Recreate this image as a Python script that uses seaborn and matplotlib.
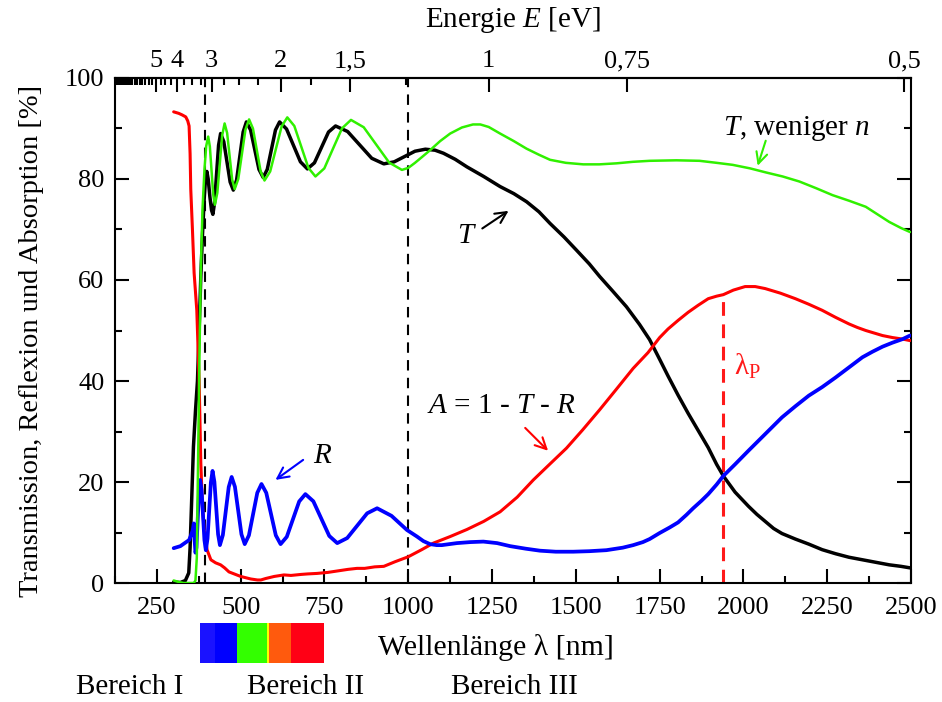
import numpy as np
import pandas as pd
import matplotlib
matplotlib.use("Agg")
import matplotlib.pyplot as plt
from matplotlib.patches import Rectangle
from matplotlib.ticker import FixedLocator, MultipleLocator
import matplotlib.transforms as mtransforms
import seaborn as sns

# ---------------- data (wavelength in nm, values in %) ----------------
# transmission T
lam_T = [300, 320, 335, 345, 349, 354, 359, 365, 371, 376, 381, 386, 391, 395, 399,
         403, 408, 413, 417, 422, 428, 434, 440, 449.5, 459, 468.5, 478, 487.75, 497.5,
         507.25, 517, 529.5, 542, 554.5, 567, 579.25, 591.5, 603.75, 616, 636.75, 657.5,
         678.25, 699, 720, 741, 762, 783, 819, 855, 891, 927, 958, 989, 1020, 1051,
         1080, 1105, 1140, 1175, 1225, 1274, 1315, 1353, 1390, 1423, 1465, 1502, 1540,
         1571, 1610, 1651, 1690, 1720, 1750, 1775, 1805, 1835, 1865, 1895, 1920, 1940,
         1975, 2015, 2040, 2065, 2090, 2115, 2155, 2195, 2235, 2275, 2315, 2355, 2395,
         2435, 2470, 2497]
val_T = [0.2, 0.1, 0.5, 2, 7, 17, 27, 34, 40, 50, 60.7, 69, 76, 80, 81.5,
         80, 76.5, 73.8, 73, 75.3, 81, 86.7, 89, 87.4, 83.4, 79.4, 77.8, 79.8, 84.55,
         89.3, 91.3, 89.7, 85.8, 81.9, 80.3, 81.9, 85.8, 89.7, 91.3, 89.9, 86.65,
         83.4, 82, 83.2, 86.25, 89.3, 90.5, 89.4, 86.75, 84.1, 83, 83.4, 84.45, 85.5, 85.9,
         85.7, 85.1, 83.9, 82.4, 80.5, 78.5, 77.1, 75.5, 73.5, 71.2, 68.5, 65.9, 63.2,
         60.7, 57.8, 54.7, 51.2, 48.2, 44.3, 41, 37.2, 33.6, 30.2, 26.8, 23.5, 21.2,
         18, 15.2, 13.6, 12.2, 10.8, 9.8, 8.7, 7.7, 6.6, 5.8, 5.1, 4.6, 4.1,
         3.6, 3.3, 3.0]

# transmission of the sample with lower carrier density
lam_Tn = [300, 315, 330, 360, 365, 369, 373, 377, 381, 386, 392, 397, 403, 408, 413,
          418, 423, 430.25, 437.5, 444.75, 452, 459.5, 467, 474.5, 482, 492.75, 503.5,
          514.25, 525, 536.5, 548, 559.5, 571, 588, 605, 622, 639, 660, 681, 702, 723,
          749.5, 776, 802.5, 829, 867, 905, 943, 981, 1000, 1020, 1040, 1065, 1095, 1125,
          1160, 1193, 1215, 1240, 1274, 1315, 1353, 1390, 1423, 1470, 1522, 1570, 1621,
          1670, 1720, 1800, 1869, 1920, 1968, 2020, 2067, 2117, 2167, 2216, 2266, 2315,
          2365, 2400, 2435, 2470, 2497]
val_Tn = [0.5, 0.2, 0, 0, 0.5, 5, 25, 45, 62, 74, 82, 86.5, 88.4, 86.4, 81.65,
          76.9, 74.9, 77.25, 82.95, 88.65, 91, 89.1, 84.5, 79.9, 78, 80.0, 84.9,
          89.8, 91.8, 90.0, 85.75, 81.5, 79.7, 81.5, 85.95, 90.4, 92.2, 90.5, 86.35, 82.2, 80.5,
          82.1, 86.1, 90.05, 91.7, 90.25, 86.75, 83.25, 81.8, 82.2, 83.2, 84.3, 85.7, 87.5, 89,
          90.2, 90.8, 90.8, 90.3, 89, 87.5, 86, 84.8, 83.8, 83.2, 82.9, 82.9, 83.1,
          83.4, 83.6, 83.7, 83.6, 83.2, 82.8, 82.1, 81.3, 80.5, 79.5, 78.2, 76.8, 75.7,
          74.5, 73, 71.5, 70.3, 69.5]

# absorption A = 1 - T - R
lam_A = [300, 315, 325, 336, 342, 346, 349, 351, 356, 361, 369, 376, 381, 386, 391,
         400, 411, 425, 440, 452, 465, 500, 530, 550, 560, 575, 600, 629, 650, 680,
         700, 728, 760, 790, 820, 847, 870, 900, 927, 960, 1000, 1040, 1075, 1125,
         1175, 1225, 1274, 1325, 1373, 1420, 1472, 1520, 1571, 1620, 1671, 1715, 1750,
         1775, 1805, 1835, 1865, 1895, 1920, 1940, 1970, 2005, 2035, 2065, 2110, 2155,
         2195, 2235, 2275, 2315, 2340, 2365, 2390, 2415, 2445, 2475, 2497]
val_A = [93.3, 93, 92.7, 92.3, 91.5, 90.5, 85, 78, 70, 61.4, 54, 40, 23.7, 15, 10.5,
         6.5, 4.6, 4, 3.6, 3, 2.2, 1.3, 0.8, 0.6, 0.6, 0.9, 1.3, 1.6, 1.5, 1.7,
         1.8, 1.9, 2.1, 2.4, 2.7, 2.9, 2.9, 3.2, 3.3, 4.2, 5.2, 6.6, 7.9, 9.2,
         10.6, 12.2, 14.1, 17, 20.4, 23.4, 26.7, 30.3, 34.3, 38.3, 42.5, 45.6, 48.6,
         50.3, 52, 53.6, 55, 56.3, 56.8, 57.1, 58, 58.7, 58.7, 58.3, 57.4, 56.3,
         55.2, 54, 52.6, 51.3, 50.6, 50, 49.5, 49, 48.6, 48.3, 48]

# reflection R
lam_R = [300, 320, 335, 346, 352, 357, 360, 362, 365, 368, 372, 376, 379, 383.25, 387.5,
         391.75, 396, 401, 406, 411, 416, 421.5, 427, 432.5, 438, 446.75, 455.5, 464.25,
         473, 482.75, 492.5, 502.25, 512, 524.5, 537, 549.5, 562, 576.25, 590.5, 604.75,
         619, 637.5, 656, 674.5, 693, 716.75, 740.5, 764.25, 788, 817.75, 847.5, 877.25,
         907, 950, 996, 1026, 1045, 1065, 1085, 1100, 1145, 1185, 1224, 1265, 1304, 1350,
         1393, 1440, 1492, 1540, 1591, 1640, 1671, 1700, 1720, 1750, 1780, 1805, 1830,
         1850, 1875, 1895, 1920, 1940, 1975, 2015, 2065, 2115, 2155, 2195, 2235, 2275,
         2315, 2355, 2385, 2415, 2445, 2475, 2497]
val_R = [6.9, 7.3, 8.0, 8.5, 9.5, 10.5, 11.8, 9, 6, 7, 13, 18.5, 20.4, 18.4, 13.45,
         8.5, 6.5, 8.8, 14.35, 19.9, 22.2, 20.05, 14.85, 9.65, 7.5, 9.5, 14.25, 19.0,
         21.0, 19.06, 14.35, 9.64, 7.7, 9.44, 13.65, 17.86, 19.6, 17.86, 13.65, 9.44,
         7.7, 9.15, 12.65, 16.15, 17.6, 16.18, 12.75, 9.32, 7.9, 8.9, 11.35, 13.8,
         14.8, 13.3, 10.5, 9.2, 8.3, 7.7, 7.5, 7.5, 7.9, 8.1, 8.2, 7.9, 7.3, 6.8,
         6.4, 6.2, 6.2, 6.3, 6.5, 7.0, 7.5, 8.1, 8.7, 9.9, 11.0, 12.0, 13.5,
         14.8, 16.3, 17.6, 19.5, 21.2, 23.5, 26.2, 29.5, 32.8, 35.0, 37.1, 38.8, 40.7,
         42.7, 44.7, 45.8, 46.8, 47.6, 48.3, 49]

# region boundaries and plasma wavelength
lam_bounds = [393, 1000]
lam_plasma = 1940
A_plasma = 57

# visible spectrum strip
spec_edges = [380, 424, 490, 577, 585, 650, 750]
spec_colors = ["#1a12ff", "#0000ff", "#33ff00", "#ffff00", "#ff5a0d", "#ff0015"]

x_ticks = [250, 500, 750, 1000, 1250, 1500, 1750, 2000, 2250, 2500]
y_ticks = [0, 20, 40, 60, 80, 100]
ev_ticks = [5, 4, 3, 2, 1.5, 1, 0.75, 0.5]
ev_labels = ["5", "4", "3", "2", "1,5", "1", "0,75", "0,5"]

# ---------------- style ----------------
sns.set_theme(style="ticks")
plt.rcParams["font.family"] = ["Liberation Serif", "DejaVu Serif"]
plt.rcParams["mathtext.fontset"] = "custom"
plt.rcParams["mathtext.rm"] = "Liberation Serif"
plt.rcParams["mathtext.it"] = "Liberation Serif:italic"
for key in ["text.color", "axes.labelcolor", "xtick.color", "ytick.color", "axes.edgecolor"]:
    plt.rcParams[key] = "black"
plt.rcParams["axes.linewidth"] = 1.5

GREEN = "#30f000"

fig = plt.figure(figsize=(9.42, 7.02), dpi=100)
ax = fig.add_axes([0.1221, 0.1695, 0.8450, 0.7194])

df_T = pd.DataFrame({"lam": lam_T, "val": val_T})
df_Tn = pd.DataFrame({"lam": lam_Tn, "val": val_Tn})
df_A = pd.DataFrame({"lam": lam_A, "val": val_A})
df_R = pd.DataFrame({"lam": lam_R, "val": val_R})

for xb in lam_bounds:
    ax.plot([xb, xb], [0, 100], color="black", lw=1.5, dashes=(5, 3.5), zorder=1)
ax.plot([lam_plasma, lam_plasma], [0, A_plasma], color="#ff1a1a", lw=2.2,
        dashes=(4.5, 2.8), zorder=1)

sns.lineplot(data=df_T, x="lam", y="val", ax=ax, color="black", lw=2.5,
             estimator=None, sort=False, zorder=2)
sns.lineplot(data=df_A, x="lam", y="val", ax=ax, color="#ff0000", lw=2.2,
             estimator=None, sort=False, zorder=3)
sns.lineplot(data=df_R, x="lam", y="val", ax=ax, color="#0000ff", lw=2.7,
             estimator=None, sort=False, zorder=4)
sns.lineplot(data=df_Tn, x="lam", y="val", ax=ax, color=GREEN, lw=1.8,
             estimator=None, sort=False, zorder=5)

ax.set_xlim(125, 2500)
ax.set_ylim(0, 100)
ax.set_xticks(x_ticks)
ax.xaxis.set_minor_locator(MultipleLocator(125))
ax.set_yticks(y_ticks)
ax.yaxis.set_minor_locator(MultipleLocator(10))
ax.tick_params(which="both", direction="in", top=False, right=True,
               labelsize=19, width=1.5, colors="black")
ax.tick_params(which="major", length=10)
ax.tick_params(which="minor", length=5)
ax.tick_params(axis="x", pad=10)
ax.tick_params(axis="y", pad=7.5)
for s in ax.spines.values():
    s.set_visible(True)
    s.set_linewidth(1.5)
    s.set_color("black")

ax.set_ylabel("Transmission, Reflexion und Absorption [%]", fontsize=20.5)
ax.yaxis.label.set_va("center")
ax.yaxis.set_label_coords(-0.105, 0.479)

ax.set_xlabel("Wellenlänge λ [nm]", fontsize=21.5)
ax.xaxis.label.set_va("baseline")
ax.xaxis.set_label_coords(0.478, -0.142)

# energy scale on top
def nm_to_ev(x):
    x = np.asarray(x, dtype=float)
    with np.errstate(divide="ignore", invalid="ignore"):
        return 1239.84 / x

sec = ax.secondary_xaxis("top", functions=(nm_to_ev, nm_to_ev))
sec.set_xticks(ev_ticks)
sec.set_xticklabels(ev_labels)
minor_ev = [e for e in np.arange(0.5, 10.01, 0.25) if e not in ev_ticks]
sec.xaxis.set_minor_locator(FixedLocator(minor_ev))
sec.tick_params(which="both", direction="in", labelsize=19, width=1.5, pad=4,
                colors="black")
sec.tick_params(which="major", length=10)
sec.tick_params(which="minor", length=5)
sec.spines["top"].set_linewidth(1.5)
sec.set_xlabel("Energie $E$ [eV]", fontsize=21, labelpad=17)

# annotations
ax.text(1176, 67.3, "$T$", fontsize=21, ha="center", va="baseline")
ax.annotate("", xy=(1306, 74.0), xytext=(1214, 69.9),
            arrowprops=dict(arrowstyle="->", color="black", lw=1.5, mutation_scale=20))

ax.text(746, 23.8, "$R$", fontsize=21, ha="center", va="baseline")
ax.annotate("", xy=(597, 20.1), xytext=(693, 24.7),
            arrowprops=dict(arrowstyle="->", color="#0000ff", lw=1.5, mutation_scale=20))

ax.text(1277, 33.7, "$A$ = 1 - $T$ - $R$", fontsize=21, ha="center", va="baseline")
ax.annotate("", xy=(1423, 25.8), xytext=(1343, 31.1),
            arrowprops=dict(arrowstyle="->", color="#ff0000", lw=1.5, mutation_scale=20))

ax.text(2159, 88.7, "$T$, weniger $n$", fontsize=21, ha="center", va="baseline")
ax.annotate("", xy=(2040, 82.1), xytext=(2069, 88.1),
            arrowprops=dict(arrowstyle="->", color=GREEN, lw=1.5, mutation_scale=20))

ax.text(1973, 41.2, "λ$_\\mathrm{P}$", fontsize=21, color="#ff1a1a", ha="left", va="baseline")

# visible spectrum strip below the axis
blend = mtransforms.blended_transform_factory(ax.transData, ax.transAxes)
for x0, x1, c in zip(spec_edges[:-1], spec_edges[1:], spec_colors):
    ax.add_patch(Rectangle((x0, -0.159), x1 - x0, 0.0805, transform=blend,
                           color=c, lw=0, clip_on=False))

# region names
yb = 1 - 694 / 702
fig.text(129.6 / 942, yb, "Bereich I", fontsize=21, ha="center", va="baseline")
fig.text(306 / 942, yb, "Bereich II", fontsize=21, ha="center", va="baseline")
fig.text(514 / 942, yb, "Bereich III", fontsize=21, ha="center", va="baseline")

fig.savefig("out.png", dpi=100)
